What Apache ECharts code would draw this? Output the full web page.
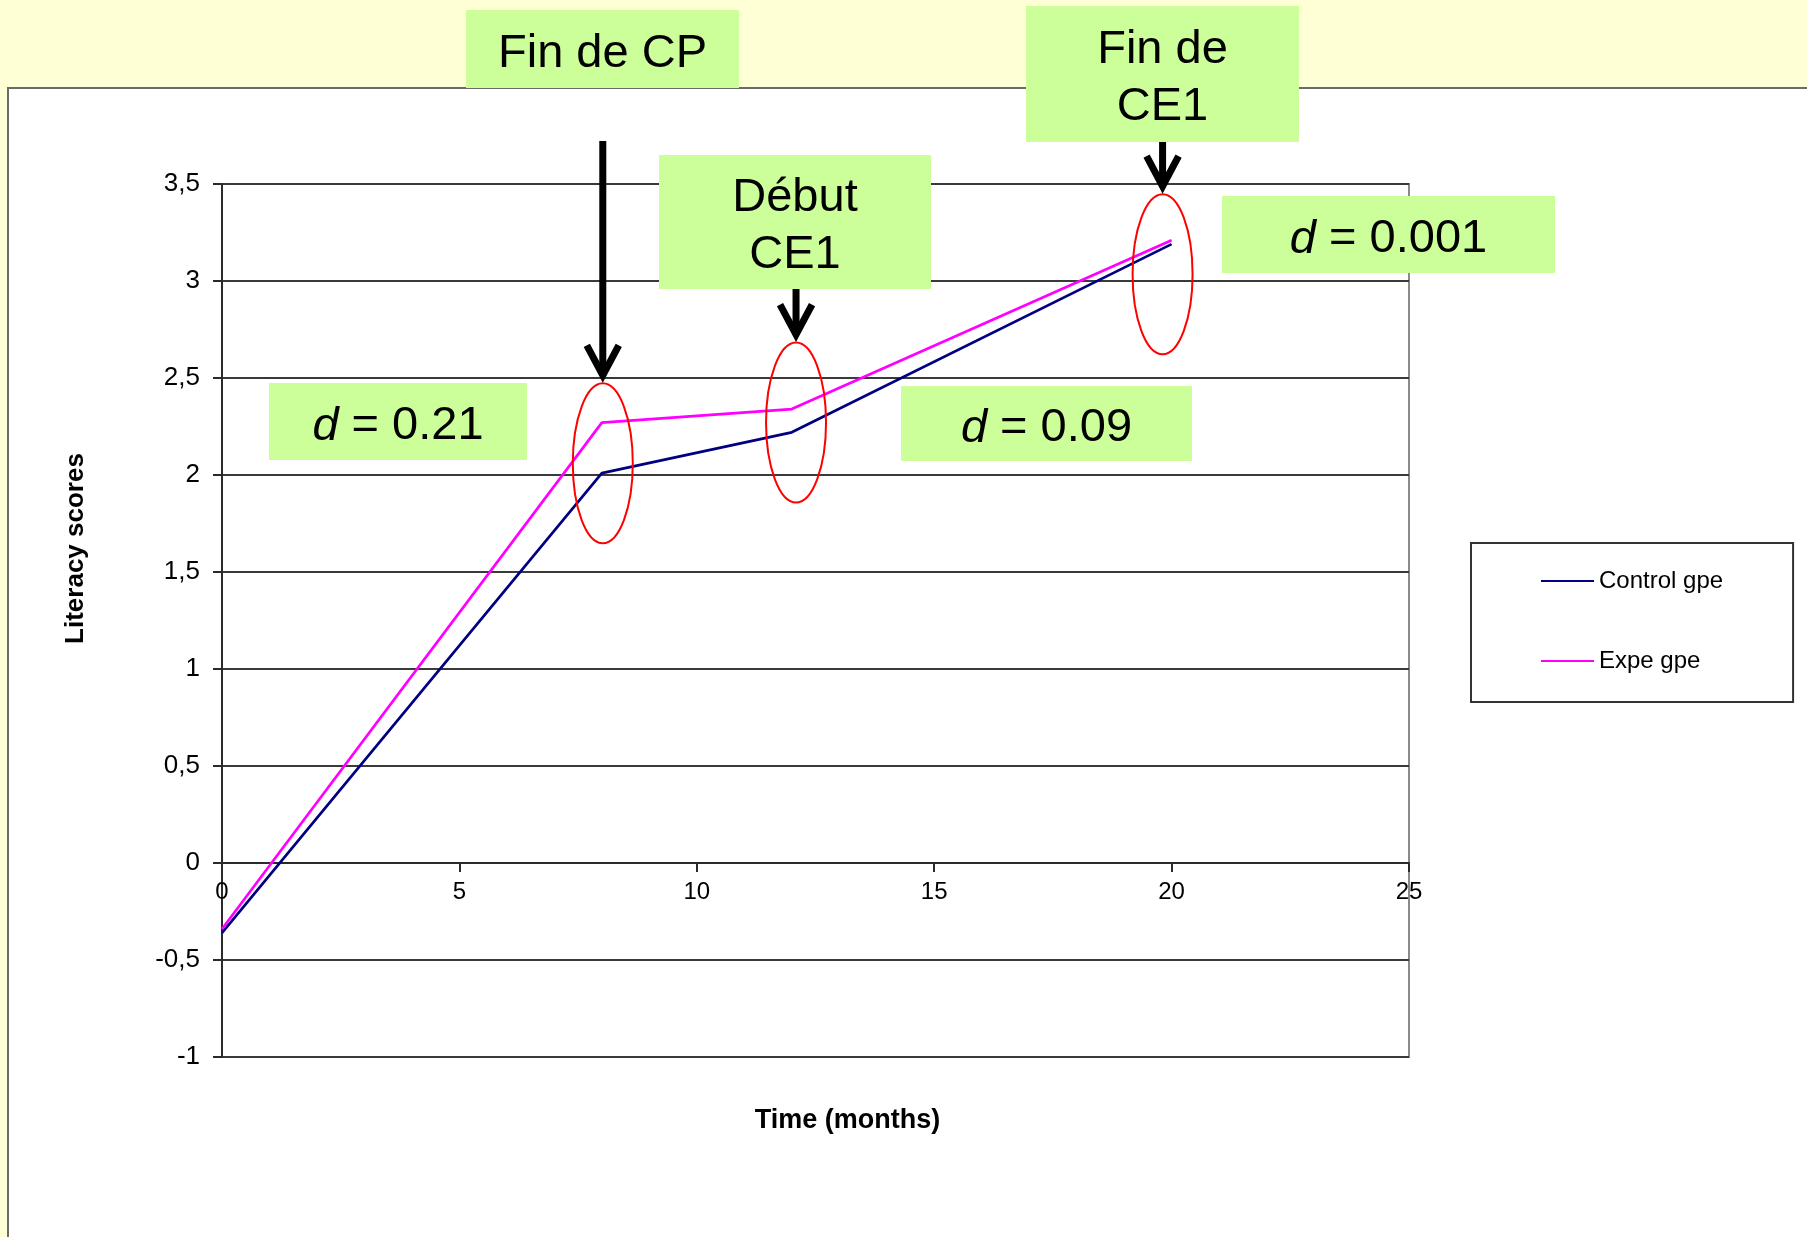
<!DOCTYPE html>
<html>
<head>
<meta charset="utf-8">
<script src="https://cdn.jsdelivr.net/npm/echarts@6/dist/echarts.min.js"></script>
<style>
  html, body { margin: 0; padding: 0; background: #FFFFD6; }
  #chart { width: 1807px; height: 1237px; }
</style>
</head>
<body>
<div id="chart"></div>
<script>
// Literacy scores over time for the two groups
const months = [0, 8, 12, 20];
const controlScores = [-0.36, 2.01, 2.22, 3.19];
const expeScores = [-0.34, 2.27, 2.34, 3.21];
const seriesNames = ['Control gpe', 'Expe gpe'];
const xTicks = [0, 5, 10, 15, 20, 25];
const yTicks = [-1, -0.5, 0, 0.5, 1, 1.5, 2, 2.5, 3, 3.5];

const FONT = '"Liberation Sans", Arial, Helvetica, sans-serif';
const GREEN = '#CCFF99';

function pairs(xs, ys) { return xs.map((x, i) => [x, ys[i]]); }
function comma(v) { return String(v).replace('.', ','); }

// plot area
const W = 1807, H = 1237;
const GRID = { left: 222, right: 398, top: 184, bottom: 180 };
const yMin = yTicks[0], yMax = yTicks[yTicks.length - 1];
// the time axis crosses the score axis at zero
const plotH = H - GRID.top - GRID.bottom;
const zeroLift = (0 - yMin) / (yMax - yMin) * plotH;

const chart = echarts.init(document.getElementById('chart'), null, { renderer: 'canvas' });

chart.setOption({
  backgroundColor: 'transparent',
  animation: false,
  textStyle: { fontFamily: FONT },
  grid: {
    left: GRID.left, right: GRID.right, top: GRID.top, bottom: GRID.bottom,
    outerBoundsMode: 'none', containLabel: false,
    show: true, borderColor: '#8a8a8a', borderWidth: 2, backgroundColor: 'transparent'
  },
  legend: {
    data: seriesNames,
    orient: 'vertical',
    left: 1471, top: 543,
    padding: [26, 70, 29, 69],
    backgroundColor: '#fff',
    borderColor: '#333', borderWidth: 2,
    itemWidth: 53, itemHeight: 24, itemGap: 56,
    itemStyle: { opacity: 0 },
    textStyle: { fontSize: 24, color: '#000', fontFamily: FONT, lineHeight: 24 }
  },
  xAxis: {
    type: 'value', position: 'bottom', offset: -zeroLift,
    min: xTicks[0], max: xTicks[xTicks.length - 1], interval: xTicks[1] - xTicks[0],
    name: 'Time (months)', nameLocation: 'middle', nameGap: 244,
    nameTextStyle: { fontSize: 27, fontWeight: 'bold', color: '#000', fontFamily: FONT, padding: [0, 0, 0, 64] },
    axisLine: { onZero: false, lineStyle: { color: '#2a2a2a', width: 2 } },
    axisTick: { show: true, inside: false, length: 9, lineStyle: { color: '#2a2a2a', width: 2 } },
    axisLabel: { fontSize: 24, color: '#000', margin: 17, fontFamily: FONT },
    splitLine: { show: false }
  },
  yAxis: {
    type: 'value',
    min: yMin, max: yMax, interval: yTicks[1] - yTicks[0],
    name: 'Literacy scores', nameLocation: 'middle', nameGap: 133, nameRotate: 90,
    nameTextStyle: { fontSize: 26, fontWeight: 'bold', color: '#000', fontFamily: FONT, padding: [0, 0, 0, 144] },
    axisLine: { show: true, lineStyle: { color: '#2a2a2a', width: 2 } },
    axisTick: { show: true, inside: false, length: 9, lineStyle: { color: '#2a2a2a', width: 2 } },
    axisLabel: { fontSize: 26, color: '#000', margin: 22, fontFamily: FONT, formatter: comma },
    splitLine: { show: true, lineStyle: { color: '#3a3a3a', width: 2 } }
  },
  series: [
    {
      name: seriesNames[0], type: 'line', data: pairs(months, controlScores),
      symbol: 'none', z: 3,
      lineStyle: { color: '#000080', width: 2.7 }, itemStyle: { color: '#000080' }
    },
    {
      name: seriesNames[1], type: 'line', data: pairs(months, expeScores),
      symbol: 'none', z: 4,
      lineStyle: { color: '#FF00FF', width: 2.7 }, itemStyle: { color: '#FF00FF' }
    }
  ]
});

// Callout boxes above and around the plot
const callouts = [
  { x: 466, y: 10, w: 273, h: 78, text: 'Fin de CP' },
  { x: 1026, y: 6, w: 273, h: 136, text: 'Fin de\nCE1' },
  { x: 659, y: 155, w: 272, h: 134, text: 'Début\nCE1' },
  { x: 269, y: 383, w: 258, h: 77, text: '{i|d} = 0.21' },
  { x: 901, y: 386, w: 291, h: 75, text: '{i|d} = 0.09' },
  { x: 1222, y: 196, w: 333, h: 77, text: '{i|d} = 0.001' }
];

// Red rings around each measurement time, with an arrow coming down from its label
const rings = [
  { month: 8.02, score: 2.06, arrowFrom: 141 },
  { month: 12.09, score: 2.27, arrowFrom: 289 },
  { month: 19.81, score: 3.035, arrowFrom: 142 }
];
const RX = 30, RY = 80;

const elements = [];

// white chart panel behind the plot
elements.push({
  type: 'rect', z: -10, silent: true,
  shape: { x: 8, y: 88, width: 1830, height: 1200 },
  style: { fill: '#ffffff', stroke: '#6a6a6a', lineWidth: 2 }
});

rings.forEach(r => {
  const [cx, cy] = chart.convertToPixel({ gridIndex: 0 }, [r.month, r.score]);
  elements.push({
    type: 'ellipse', z: 50, silent: true,
    shape: { cx: cx, cy: cy, rx: RX, ry: RY },
    style: { fill: null, stroke: '#FF0000', lineWidth: 2 }
  });
  const tip = cy - RY;
  elements.push({
    type: 'line', z: 100, silent: true,
    shape: { x1: cx, y1: r.arrowFrom, x2: cx, y2: tip - 8 },
    style: { stroke: '#000', lineWidth: 7 }
  });
  elements.push({
    type: 'polyline', z: 100, silent: true,
    shape: { points: [[cx - 16, tip - 38], [cx, tip - 8], [cx + 16, tip - 38]] },
    style: { stroke: '#000', lineWidth: 7, fill: null, lineJoin: 'miter', miterLimit: 10 }
  });
});

callouts.forEach(c => {
  elements.push({
    type: 'rect', z: 90, silent: true,
    shape: { x: c.x, y: c.y, width: c.w, height: c.h },
    style: { fill: GREEN }
  });
  elements.push({
    type: 'text', z: 91, silent: true,
    x: c.x + c.w / 2, y: c.y + c.h / 2 + 5,
    style: {
      text: c.text, fill: '#000',
      fontSize: 47, fontFamily: FONT,
      align: 'center', verticalAlign: 'middle', lineHeight: 57,
      rich: { i: { fontStyle: 'italic', fontSize: 47, fontFamily: FONT, fill: '#000' } }
    }
  });
});

chart.setOption({ graphic: elements });
</script>
</body>
</html>
